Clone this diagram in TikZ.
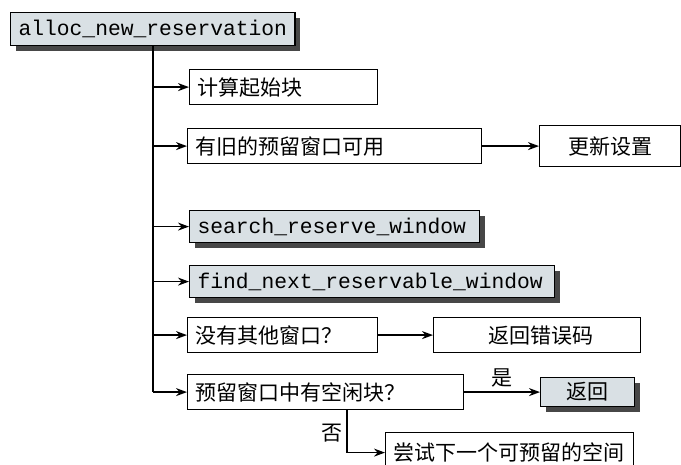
\documentclass[tikz,border=0pt]{standalone}
\usepackage{fontspec}
\setmonofont{Liberation Mono}
\newfontfamily\cjk{Noto Sans CJK SC}
\usetikzlibrary{shadows,arrows.meta,calc}
\definecolor{boxgray}{HTML}{D9E0E4}
\definecolor{shadowgray}{HTML}{474747}
\begin{document}
\begin{tikzpicture}[x=1pt,y=-1pt,
  box/.style={draw=black, line width=1.2pt, fill=white, anchor=north west,
    inner xsep=8pt, inner ysep=0pt, font=\cjk\fontsize{21}{24}\selectfont},
  gbox/.style={box, fill=boxgray,
    drop shadow={shadow xshift=5pt, shadow yshift=-5pt, fill=shadowgray, opacity=1},
    font=\ttfamily\fontsize{21.3}{24}\selectfont},
  arr/.style={line width=1.5pt, -{Stealth[length=11pt,width=8pt]}},
  lbl/.style={font=\cjk\fontsize{21}{24}\selectfont, inner sep=1pt}]
\useasboundingbox (0,0) rectangle (681,465);
\fill[white] (0,0) rectangle (681,465);

\node[gbox, minimum width=280pt, minimum height=33pt] (top) at (10,12) {alloc\_new\_reservation};

\node[box, text width=172pt, minimum height=35pt, align=left] (n1) at (189,69) {计算起始块};
\node[box, text width=278pt, minimum height=35pt, align=left] (n2) at (187,128) {有旧的预留窗口可用};
\node[box, minimum width=141pt, minimum height=41pt] (n2r) at (539,125) {更新设置};
\node[gbox, text width=274pt, minimum height=32pt, align=left] (n3) at (189,210) {search\_reserve\_window};
\node[gbox, text width=349pt, minimum height=32pt, align=left] (n4) at (189,265) {find\_next\_reservable\_window};
\node[box, text width=174pt, minimum height=35pt, align=left] (n5) at (187,317) {没有其他窗口？};
\node[box, minimum width=207pt, minimum height=35pt] (n5r) at (433,317) {\hspace{8pt}返回错误码};
\node[box, text width=260pt, minimum height=35pt, align=left] (n6) at (187,374) {预留窗口中有空闲块？};
\node[gbox, minimum width=94pt, minimum height=29pt, font=\cjk\fontsize{21}{24}\selectfont] (n6r) at (540,377) {返回};
\node[box, text width=232pt, minimum height=40pt, align=left] (n7) at (385,432) {尝试下一个可预留的空间};

\coordinate (tb) at (top.south);
\draw[line width=1.6pt] (tb) -- (tb |- n6.west);
\foreach \n in {n1,n2,n3,n4,n5,n6}
  \draw[arr] (tb |- \n.west) -- (\n.west);

\draw[arr] (n2.east) -- (n2r.west);
\draw[arr] (n5.east) -- (n5r.west);
\draw[arr] (n6.east) -- node[lbl, above=3pt] {是} (n6r.west);

\coordinate (nb) at ($(n6.south west)+(160,0)$);
\draw[arr] (nb) |- (n7.west);
\node[lbl, left=3pt] (no) at ($(nb)+(0,23)$) {否};
\end{tikzpicture}
\end{document}
